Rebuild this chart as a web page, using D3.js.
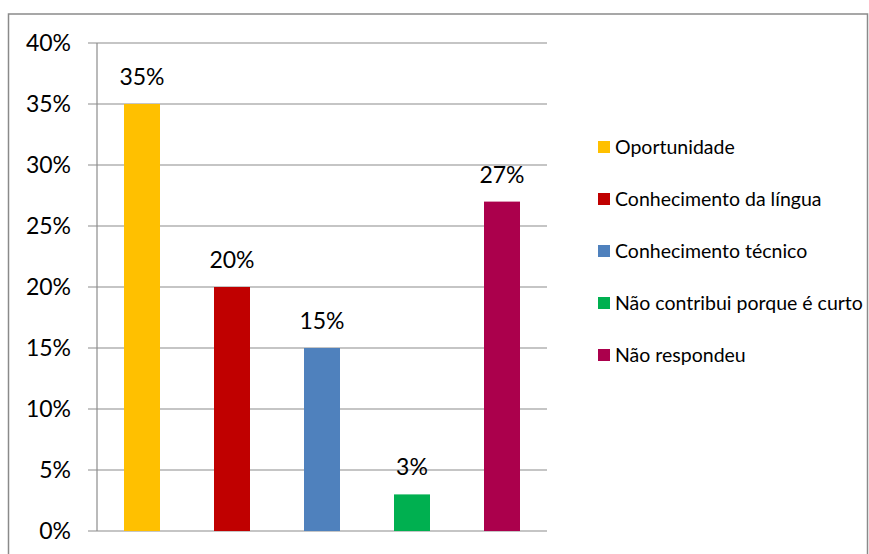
<!DOCTYPE html>
<html>
<head>
<meta charset="utf-8">
<script src="https://cdn.jsdelivr.net/npm/d3@7"></script>
<style>
  body { margin: 0; background: #fff; }
  text { font-family: Lato, "Open Sans", sans-serif; fill: #000; }
</style>
</head>
<body>
<script>
// dados
var categories = ['Oportunidade', 'Conhecimento da língua', 'Conhecimento técnico',
                  'Não contribui porque é curto', 'Não respondeu'];
var values = [35, 20, 15, 3, 27];
var colors = ['#FFC000', '#C00000', '#4F81BD', '#00B050', '#AB004C'];
var ticks = [0, 5, 10, 15, 20, 25, 30, 35, 40];

var W = 869, H = 554;
var svg = d3.select('body').append('svg')
  .attr('width', W)
  .attr('height', H);

// moldura
svg.append('rect')
  .attr('x', 8.5).attr('y', 14)
  .attr('width', 859).attr('height', 560)
  .attr('fill', 'none')
  .attr('stroke', '#8a8a8a')
  .attr('stroke-width', 1.5);

var x = d3.scaleBand()
  .domain(categories)
  .range([97, 547])
  .paddingInner(0.6)
  .paddingOuter(0.3);

var y = d3.scaleLinear()
  .domain([0, 40])
  .range([531, 43]);

// grade
svg.append('g')
  .selectAll('line')
  .data(ticks)
  .enter()
    .append('line')
      .attr('x1', 88).attr('x2', 547)
      .attr('y1', function(d){ return y(d); })
      .attr('y2', function(d){ return y(d); })
      .attr('stroke', '#8c8c8c')
      .attr('stroke-width', 1.2);

svg.append('line')
  .attr('x1', 97).attr('x2', 97)
  .attr('y1', y(40)).attr('y2', y(0))
  .attr('stroke', '#8c8c8c')
  .attr('stroke-width', 1.2);

// eixo y
svg.append('g')
  .selectAll('text')
  .data(ticks)
  .enter()
    .append('text')
      .attr('x', 71)
      .attr('y', function(d){ return y(d); })
      .attr('dy', '0.36em')
      .attr('text-anchor', 'end')
      .style('font-size', '23px')
      .text(function(d){ return d + '%'; });

// barras
svg.append('g')
  .selectAll('rect')
  .data(values)
  .enter()
    .append('rect')
      .attr('x', function(d, i){ return x(categories[i]); })
      .attr('width', x.bandwidth())
      .attr('y', function(d){ return y(d); })
      .attr('height', function(d){ return y(0) - y(d); })
      .attr('fill', function(d, i){ return colors[i]; });

// rótulos
svg.append('g')
  .selectAll('text')
  .data(values)
  .enter()
    .append('text')
      .attr('x', function(d, i){ return x(categories[i]) + x.bandwidth() / 2; })
      .attr('y', function(d){ return y(d) - 19; })
      .attr('text-anchor', 'middle')
      .style('font-size', '23px')
      .text(function(d){ return d + '%'; });

// legenda
var legend = svg.append('g')
  .selectAll('g')
  .data(categories)
  .enter()
    .append('g')
      .attr('transform', function(d, i){ return 'translate(598,' + (147 + 52 * i) + ')'; });

legend.append('rect')
  .attr('x', 0).attr('y', -6)
  .attr('width', 12).attr('height', 12)
  .attr('fill', function(d, i){ return colors[i]; });

legend.append('text')
  .attr('x', 17)
  .attr('dy', '0.36em')
  .style('font-size', '19.5px')
  .text(function(d){ return d; });
</script>
</body>
</html>
